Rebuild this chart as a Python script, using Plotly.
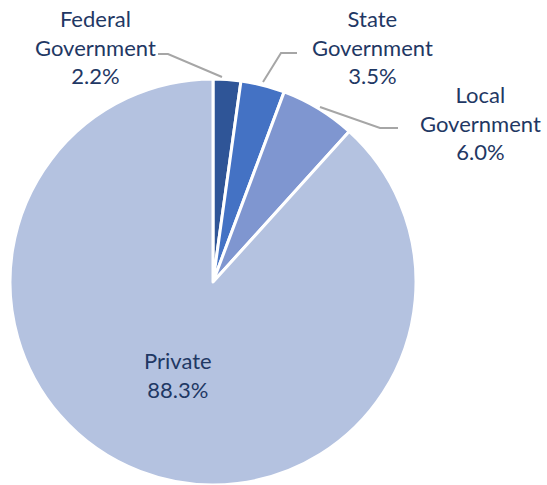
import plotly.graph_objects as go

labels = ["Federal Government", "State Government", "Local Government", "Private"]
values = [2.2, 3.5, 6.0, 88.3]
colors = ["#2F5597", "#4472C4", "#7F96D0", "#B4C2E0"]

W, H = 547, 485
FONT = "Lato"
TXT = "#1F3864"


def px(x, y):
    return x / W, 1 - y / H


x0, y1 = px(10, 79)
x1, y0 = px(416, 485)
fig = go.Figure(go.Pie(
    labels=labels, values=values, sort=False, direction="clockwise", rotation=0,
    marker=dict(colors=colors, line=dict(color="white", width=3)),
    textinfo="none", hoverinfo="label+percent",
    domain=dict(x=[max(x0, 0), min(x1, 1)], y=[max(y0, 0), min(y1, 1)]),
))

label_pos = [(95, 47), (372, 47), (480, 123), (178, 375)]
label_text = ["Federal<br>Government<br>2.2%", "State<br>Government<br>3.5%",
              "Local<br>Government<br>6.0%", "Private<br>88.3%"]
anns = []
for (x, y), t in zip(label_pos, label_text):
    ax, ay = px(x, y)
    anns.append(dict(x=ax, y=ay, xref="paper", yref="paper", text=t, showarrow=False,
                     font=dict(family=FONT, size=22, color=TXT), align="center",
                     xanchor="center", yanchor="middle"))

leaders = [
    [(158, 54), (168, 54), (222, 77)],
    [(297, 53), (281, 53), (263, 82)],
    [(320, 107), (380, 128), (398, 128)],
]
shapes = []
for pts in leaders:
    path = ""
    for i, (x, y) in enumerate(pts):
        X, Y = px(x, y)
        path += ("M" if i == 0 else "L") + f"{X},{Y} "
    shapes.append(dict(type="path", xref="paper", yref="paper", path=path.strip(),
                       line=dict(color="#A6A6A6", width=2)))

fig.update_layout(width=W, height=H, margin=dict(l=0, r=0, t=0, b=0),
                  showlegend=False, paper_bgcolor="white", plot_bgcolor="white",
                  annotations=anns, shapes=shapes)
fig.write_html("out.html", config={"displayModeBar": False},
               post_script="document.body.style.margin='0';document.body.style.overflow='hidden';")
